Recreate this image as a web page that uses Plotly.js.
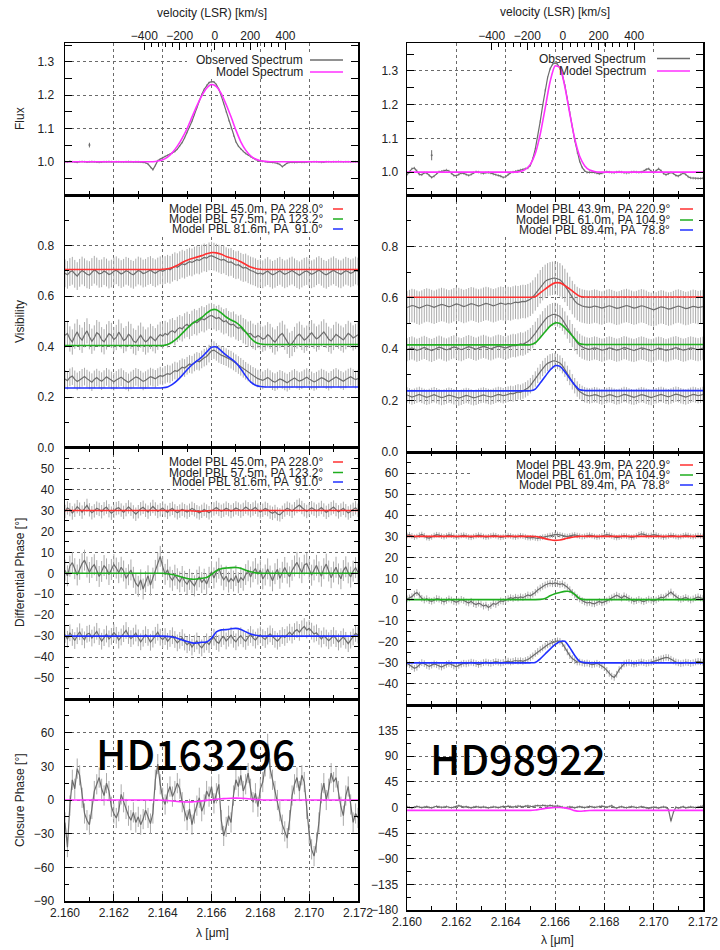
<!DOCTYPE html>
<html>
<head>
<meta charset="utf-8">
<script src="https://cdn.plot.ly/plotly-3.0.1.min.js"></script>
<style>html,body{margin:0;padding:0;background:#fff;}#chart{width:720px;height:950px;}</style>
</head>
<body>
<div id="chart"></div>
<script>
// ---------------- DATA ----------------
const lamObs = [
2.1600,2.1601,2.1602,2.1603,2.1604,2.1605,2.1606,2.1607,2.1608,2.1609,
2.1610,2.1611,2.1612,2.1613,2.1614,2.1615,2.1616,2.1617,2.1618,2.1619,
2.1620,2.1621,2.1622,2.1623,2.1624,2.1625,2.1626,2.1627,2.1628,2.1629,
2.1630,2.1631,2.1632,2.1633,2.1634,2.1635,2.1636,2.1637,2.1638,2.1639,
2.1640,2.1641,2.1642,2.1643,2.1644,2.1645,2.1646,2.1647,2.1648,2.1649,
2.1650,2.1651,2.1652,2.1653,2.1654,2.1655,2.1656,2.1657,2.1658,2.1659,
2.1660,2.1661,2.1662,2.1663,2.1664,2.1665,2.1666,2.1667,2.1668,2.1669,
2.1670,2.1671,2.1672,2.1673,2.1674,2.1675,2.1676,2.1677,2.1678,2.1679,
2.1680,2.1681,2.1682,2.1683,2.1684,2.1685,2.1686,2.1687,2.1688,2.1689,
2.1690,2.1691,2.1692,2.1693,2.1694,2.1695,2.1696,2.1697,2.1698,2.1699,
2.1700,2.1701,2.1702,2.1703,2.1704,2.1705,2.1706,2.1707,2.1708,2.1709,
2.1710,2.1711,2.1712,2.1713,2.1714,2.1715,2.1716,2.1717,2.1718,2.1719,2.1720];

const lamMod = [
2.1600,2.1602,2.1604,2.1606,2.1608,2.1610,2.1612,2.1614,2.1616,2.1618,
2.1620,2.1622,2.1624,2.1626,2.1628,2.1630,2.1632,2.1634,2.1636,2.1638,
2.1640,2.1642,2.1644,2.1646,2.1648,2.1650,2.1652,2.1654,2.1656,2.1658,
2.1660,2.1662,2.1664,2.1666,2.1668,2.1670,2.1672,2.1674,2.1676,2.1678,
2.1680,2.1682,2.1684,2.1686,2.1688,2.1690,2.1692,2.1694,2.1696,2.1698,
2.1700,2.1702,2.1704,2.1706,2.1708,2.1710,2.1712,2.1714,2.1716,2.1718,2.1720];

// ---- HD163296 (left) ----
const fluxObsL = [
1.000,0.999,1.001,1.000,0.999,0.998,1.000,1.001,1.000,0.999,
1.000,1.001,1.000,0.999,0.998,0.999,1.000,1.000,1.001,1.000,
0.999,1.000,1.000,0.999,0.999,1.000,1.001,1.000,0.999,1.000,
1.000,0.999,0.998,0.997,0.993,0.983,0.976,0.989,1.003,1.008,
1.012,1.016,1.019,1.022,1.026,1.031,1.038,1.047,1.058,1.072,
1.088,1.104,1.122,1.142,1.163,1.183,1.202,1.218,1.230,1.238,
1.241,1.240,1.232,1.218,1.198,1.175,1.150,1.124,1.100,1.078,
1.060,1.047,1.038,1.031,1.025,1.020,1.015,1.011,1.007,1.004,
1.002,1.001,1.000,0.999,0.999,0.998,0.997,0.995,0.992,0.985,
0.990,0.996,0.998,0.998,0.997,0.998,0.999,0.998,0.998,0.999,
1.000,0.999,1.000,1.000,0.999,0.998,0.999,1.000,1.000,0.999,
1.000,1.000,1.001,1.000,0.999,1.000,1.000,0.999,1.000,1.000,1.000];
const fluxModL = [
1.000,1.000,1.000,1.000,1.000,1.000,1.000,1.000,1.000,1.000,
1.000,1.000,1.000,1.000,1.000,1.000,1.000,1.000,1.000,1.002,
1.006,1.014,1.028,1.047,1.071,1.100,1.134,1.168,1.198,1.221,
1.232,1.226,1.205,1.172,1.135,1.095,1.060,1.035,1.018,1.008,
1.003,1.001,1.000,1.000,1.000,1.000,1.000,1.000,1.000,1.000,
1.000,1.000,1.000,1.000,1.000,1.000,1.000,1.000,1.000,1.000,1.000];

const visObsL1 = [
0.690,0.684,0.695,0.700,0.688,0.679,0.692,0.701,0.694,0.686,
0.683,0.695,0.704,0.697,0.688,0.690,0.699,0.693,0.685,0.689,
0.698,0.702,0.694,0.687,0.692,0.700,0.696,0.688,0.684,0.693,
0.701,0.697,0.689,0.692,0.699,0.703,0.695,0.690,0.697,0.702,
0.698,0.703,0.708,0.704,0.712,0.718,0.714,0.722,0.728,0.724,
0.731,0.736,0.733,0.740,0.744,0.741,0.748,0.753,0.750,0.757,
0.760,0.756,0.752,0.748,0.742,0.745,0.738,0.733,0.735,0.727,
0.722,0.724,0.716,0.711,0.713,0.706,0.701,0.698,0.694,0.688,
0.691,0.686,0.693,0.699,0.690,0.684,0.688,0.695,0.700,0.692,
0.686,0.690,0.697,0.701,0.694,0.687,0.682,0.689,0.696,0.699,
0.693,0.686,0.690,0.698,0.703,0.696,0.688,0.684,0.691,0.697,
0.702,0.695,0.689,0.686,0.693,0.700,0.696,0.690,0.694,0.701,0.697];
const visObsL2 = [
0.445,0.452,0.430,0.418,0.441,0.458,0.436,0.425,0.447,0.462,
0.439,0.421,0.434,0.455,0.448,0.427,0.419,0.438,0.451,0.444,
0.428,0.436,0.457,0.442,0.424,0.431,0.449,0.440,0.422,0.416,
0.433,0.445,0.429,0.418,0.426,0.440,0.431,0.423,0.437,0.448,
0.441,0.452,0.446,0.458,0.463,0.455,0.468,0.475,0.470,0.482,
0.488,0.479,0.492,0.499,0.494,0.503,0.510,0.506,0.514,0.520,
0.523,0.518,0.511,0.515,0.505,0.498,0.502,0.491,0.486,0.489,
0.478,0.472,0.476,0.463,0.458,0.449,0.452,0.441,0.436,0.444,
0.438,0.429,0.434,0.447,0.440,0.426,0.418,0.431,0.445,0.452,
0.437,0.421,0.405,0.412,0.428,0.442,0.449,0.436,0.425,0.433,
0.446,0.455,0.441,0.430,0.437,0.450,0.458,0.444,0.429,0.422,
0.436,0.448,0.441,0.433,0.426,0.439,0.452,0.445,0.434,0.440,0.447];
const visObsL3 = [
0.272,0.265,0.278,0.283,0.270,0.262,0.268,0.276,0.281,0.273,
0.266,0.259,0.270,0.277,0.269,0.263,0.271,0.280,0.274,0.266,
0.261,0.268,0.275,0.279,0.271,0.264,0.258,0.266,0.273,0.280,
0.276,0.269,0.262,0.267,0.274,0.281,0.277,0.272,0.279,0.285,
0.282,0.288,0.293,0.290,0.298,0.305,0.302,0.311,0.318,0.315,
0.324,0.331,0.328,0.337,0.343,0.340,0.349,0.356,0.361,0.372,
0.383,0.386,0.379,0.371,0.366,0.362,0.358,0.352,0.348,0.341,
0.334,0.327,0.320,0.312,0.304,0.297,0.291,0.284,0.279,0.273,
0.270,0.266,0.272,0.278,0.271,0.263,0.259,0.265,0.272,0.268,
0.262,0.257,0.264,0.271,0.276,0.269,0.263,0.267,0.274,0.279,
0.272,0.266,0.260,0.265,0.271,0.277,0.273,0.267,0.261,0.268,
0.275,0.280,0.274,0.268,0.263,0.270,0.277,0.281,0.275,0.269,0.273];
const visModL1 = [
0.705,0.705,0.705,0.705,0.705,0.705,0.705,0.705,0.705,0.705,
0.705,0.705,0.705,0.705,0.705,0.705,0.705,0.705,0.705,0.705,
0.706,0.708,0.713,0.722,0.733,0.742,0.749,0.754,0.760,0.767,
0.772,0.771,0.765,0.757,0.751,0.745,0.736,0.725,0.715,0.709,
0.706,0.705,0.705,0.705,0.705,0.705,0.705,0.705,0.705,0.705,
0.705,0.705,0.705,0.705,0.705,0.705,0.705,0.705,0.705,0.705,0.705];
const visModL2 = [
0.404,0.404,0.404,0.404,0.404,0.404,0.404,0.404,0.404,0.404,
0.404,0.404,0.404,0.404,0.404,0.404,0.404,0.404,0.404,0.404,
0.404,0.408,0.418,0.433,0.452,0.472,0.490,0.503,0.515,0.532,
0.545,0.546,0.533,0.517,0.505,0.496,0.480,0.458,0.434,0.417,
0.410,0.408,0.408,0.408,0.408,0.408,0.408,0.408,0.408,0.408,
0.408,0.408,0.408,0.408,0.408,0.408,0.408,0.408,0.408,0.408,0.408];
const visModL3 = [
0.236,0.236,0.236,0.236,0.236,0.236,0.236,0.236,0.236,0.236,
0.236,0.236,0.236,0.236,0.236,0.236,0.236,0.236,0.236,0.236,
0.237,0.240,0.250,0.266,0.286,0.308,0.328,0.343,0.358,0.378,
0.397,0.398,0.383,0.366,0.352,0.336,0.312,0.284,0.260,0.247,
0.242,0.240,0.240,0.240,0.240,0.240,0.240,0.240,0.240,0.240,
0.240,0.240,0.240,0.240,0.240,0.240,0.240,0.240,0.240,0.240,0.240];

const dpObsL1 = [
29.5,31.2,30.4,28.8,30.1,31.8,30.6,29.2,30.9,32.4,
30.3,28.9,29.8,31.1,30.5,29.4,30.8,31.6,29.9,28.7,
29.6,30.9,31.3,30.2,29.1,30.4,31.7,30.6,29.3,28.2,
29.4,30.8,31.5,30.1,29.2,30.6,31.9,30.7,29.5,30.3,
31.2,30.0,29.1,30.4,31.0,29.8,28.9,29.7,30.6,29.9,
29.2,30.1,31.0,30.3,29.4,28.8,29.6,30.5,29.7,28.9,
29.8,30.7,31.4,30.5,29.6,30.2,31.1,30.4,29.5,30.3,
31.2,30.6,29.7,30.5,31.6,30.8,29.9,30.7,31.5,30.2,
29.3,30.1,31.0,30.4,29.2,28.6,29.5,28.3,27.9,29.1,
30.2,31.1,30.5,29.6,30.8,31.9,32.6,31.4,30.3,29.5,
30.4,31.3,30.6,29.7,30.5,31.4,30.2,29.1,30.0,30.9,
31.6,30.4,29.3,30.2,31.0,29.9,28.8,29.6,30.5,31.3,30.1];
const dpObsL2 = [
1.5,-1.2,3.4,5.1,2.2,-0.8,1.9,4.6,6.3,3.0,
0.4,2.8,4.1,1.3,-1.5,0.9,3.7,2.1,-0.6,1.8,
4.2,2.5,0.3,2.9,1.1,-2.4,-0.7,1.6,-1.9,-4.8,
-6.2,-3.1,-7.5,-4.0,-1.2,-5.6,-2.3,1.4,4.8,8.1,
3.2,-0.5,1.7,-1.8,-3.4,-0.9,-2.6,-4.1,-1.5,-3.8,
-5.2,-2.9,-4.6,-6.0,-3.3,-1.7,-4.4,-2.8,-5.1,-1.9,
0.8,-2.2,0.6,2.4,-0.9,-3.1,-1.4,-4.2,-2.5,-3.7,
-1.1,-4.5,-2.0,-3.3,-0.6,1.2,-1.8,0.7,2.3,-0.4,
1.5,-2.7,-0.8,2.1,-1.3,-3.6,-0.2,1.9,-2.4,0.5,
2.8,0.1,-1.7,1.4,3.5,5.2,2.6,0.3,3.9,4.7,
2.0,-0.9,1.6,3.8,0.7,-1.4,2.2,4.4,1.1,-2.1,
0.6,2.9,-0.3,-2.6,1.3,3.1,0.2,-1.8,1.0,2.7,0.4];
const dpObsL3 = [
-29.2,-31.5,-28.4,-30.6,-32.1,-29.8,-27.9,-30.3,-31.8,-29.1,
-28.6,-30.9,-29.4,-27.7,-30.2,-32.4,-30.7,-29.0,-31.3,-30.1,
-28.3,-29.6,-31.9,-30.4,-28.8,-27.3,-29.7,-31.2,-30.0,-28.5,
-30.8,-32.7,-31.0,-29.3,-30.6,-32.9,-31.4,-29.6,-28.1,-30.5,
-31.7,-30.2,-32.5,-31.1,-29.8,-31.6,-33.2,-32.0,-30.7,-32.8,
-34.1,-33.0,-35.2,-33.6,-32.3,-34.4,-35.6,-33.9,-32.7,-34.0,
-31.8,-30.5,-32.6,-33.4,-31.2,-30.1,-32.3,-31.0,-29.6,-31.5,
-32.7,-30.9,-29.8,-31.3,-32.5,-30.6,-29.2,-30.8,-31.9,-30.3,
-29.4,-30.7,-31.6,-30.0,-28.9,-30.2,-31.5,-32.4,-31.1,-29.7,
-30.6,-29.3,-28.1,-29.5,-27.8,-26.9,-28.2,-26.5,-25.4,-27.1,
-26.3,-27.6,-29.0,-28.4,-30.1,-31.4,-29.8,-30.9,-32.2,-31.0,
-29.7,-31.2,-32.8,-31.5,-30.3,-32.0,-33.6,-31.9,-30.4,-28.7,-29.5];
const dpModL1 = [
30,30,30,30,30,30,30,30,30,30,
30,30,30,30,30,30,30,30,30,30,
30,30,30,30,30,30,29.8,29.6,29.6,29.8,
30,30,30,30,30,30,30,30,30,30,
30,30,30,30,30,30,30,30,30,30,
30,30,30,30,30,30,30,30,30,30,30];
const dpModL2 = [
0,0,0,0,0,0,0,0,0,0,
0,0,0,0,0,0,0,0,0,0,
0,-0.2,-0.6,-1.2,-1.9,-2.5,-2.8,-2.7,-2.4,-2.0,
-0.5,1.2,2.2,2.5,2.7,2.8,2.4,1.5,0.7,0.2,
0,0,0,0,0,0,0,0,0,0,
0,0,0,0,0,0,0,0,0,0,0];
const dpModL3 = [
-30,-30,-30,-30,-30,-30,-30,-30,-30,-30,
-30,-30,-30,-30,-30,-30,-30,-30,-30,-30,
-30,-30.1,-30.4,-31.0,-31.8,-32.6,-33.2,-33.3,-32.9,-32.8,
-31.0,-28.0,-27.0,-26.9,-26.5,-26.3,-26.8,-27.9,-29.0,-29.6,
-29.9,-30,-30,-30,-30,-30,-30,-30,-30,-30,
-30,-30,-30,-30,-30,-30,-30,-30,-30,-30,-30];

const cpObsL = [
-20,-42,-5,18,10,28,22,2,-12,-18,
-22,-8,8,14,20,10,4,15,8,-6,
-12,-16,-10,5,-2,-8,-14,-18,-11,-20,
-15,-22,-17,-9,-16,-21,-12,18,32,14,
2,-4,6,12,3,8,15,10,-2,-10,
-18,-8,-22,-12,-5,2,-10,-4,8,3,
12,-3,6,14,-18,-32,-24,-14,-20,4,
18,12,22,8,14,24,10,-2,6,-6,
10,16,30,50,28,18,8,0,-10,-22,
-28,-34,-18,4,14,20,8,22,16,-8,
-30,-44,-50,-38,-20,6,15,0,10,24,
16,20,8,-6,-14,4,12,-4,-20,-12,-16];
const cpModL = [
0,0,0,0,0,0,0,0,0,0,
0,0,0,0,0,0,0,0,0,0,
-0.2,-0.5,-0.9,-1.3,-1.6,-1.8,-1.7,-1.3,-0.8,-0.3,
0.2,0.7,1.1,1.4,1.6,1.7,1.6,1.3,0.9,0.5,
0.2,0,0,0,0,0,0,0,0,0,
0,0,0,0,0,0,0,0,0,0,0];

// ---- HD98922 (right) ----
const fluxObsR = [
0.992,1.000,1.010,1.012,1.004,0.993,0.992,0.998,0.997,0.990,
0.984,0.988,0.996,1.001,1.002,1.004,1.006,1.003,0.996,0.990,
0.989,0.993,0.997,0.996,0.992,0.990,0.993,0.998,1.001,1.000,
0.997,0.996,0.998,0.999,0.997,0.994,0.992,0.990,0.988,0.984,
0.986,0.993,0.998,1.000,1.002,1.004,1.006,1.008,1.010,1.012,
1.020,1.040,1.068,1.105,1.150,1.198,1.243,1.280,1.306,1.320,
1.324,1.320,1.308,1.288,1.257,1.220,1.178,1.135,1.094,1.058,
1.032,1.014,1.004,0.999,0.999,1.000,0.999,0.997,0.995,0.997,
1.000,1.001,1.000,0.998,0.998,1.000,1.001,1.000,0.998,0.997,
0.998,1.000,1.001,1.000,0.999,1.000,1.003,1.008,1.010,1.003,
0.998,1.004,1.010,1.004,0.996,0.992,0.995,0.999,0.996,0.990,
0.988,0.993,0.997,0.993,0.986,0.983,0.982,0.981,0.981,0.981,0.982];
const fluxModR = [
1.000,1.000,1.000,1.000,1.000,1.000,1.000,1.000,1.000,1.000,
1.000,1.000,1.000,1.000,1.000,1.000,1.000,1.000,1.000,1.000,
1.000,1.000,1.000,1.002,1.008,1.023,1.055,1.112,1.189,1.268,
1.315,1.310,1.253,1.173,1.099,1.047,1.019,1.006,1.002,1.000,
1.000,1.000,1.000,1.000,1.000,1.000,1.000,1.000,1.000,1.000,
1.000,1.000,1.000,1.000,1.000,1.000,1.000,1.000,1.000,1.000,1.000];

const visObsR1 = [
0.562,0.566,0.570,0.568,0.563,0.560,0.564,0.569,0.572,0.570,
0.566,0.563,0.567,0.571,0.574,0.572,0.568,0.565,0.568,0.573,
0.576,0.574,0.570,0.566,0.569,0.573,0.577,0.575,0.571,0.568,
0.571,0.575,0.578,0.576,0.572,0.569,0.572,0.576,0.579,0.577,
0.574,0.578,0.576,0.580,0.583,0.581,0.584,0.586,0.585,0.589,
0.594,0.603,0.615,0.629,0.643,0.655,0.664,0.670,0.674,0.676,
0.677,0.675,0.670,0.661,0.648,0.633,0.617,0.601,0.588,0.578,
0.572,0.568,0.566,0.564,0.563,0.565,0.568,0.566,0.562,0.560,
0.563,0.567,0.569,0.566,0.562,0.559,0.561,0.565,0.568,0.570,
0.567,0.563,0.560,0.562,0.566,0.569,0.567,0.563,0.558,0.555,
0.553,0.557,0.562,0.565,0.563,0.559,0.556,0.558,0.562,0.566,
0.568,0.565,0.561,0.558,0.560,0.564,0.567,0.565,0.562,0.564,0.566];
const visObsR2 = [
0.398,0.402,0.405,0.401,0.396,0.399,0.404,0.407,0.403,0.398,
0.395,0.399,0.404,0.408,0.405,0.400,0.397,0.401,0.406,0.409,
0.406,0.401,0.398,0.402,0.407,0.410,0.407,0.403,0.400,0.404,
0.408,0.411,0.408,0.404,0.401,0.405,0.409,0.412,0.410,0.406,
0.404,0.408,0.412,0.415,0.413,0.417,0.421,0.419,0.424,0.430,
0.438,0.449,0.462,0.476,0.490,0.503,0.515,0.525,0.531,0.535,
0.536,0.533,0.527,0.516,0.502,0.486,0.469,0.453,0.438,0.425,
0.415,0.408,0.404,0.401,0.399,0.402,0.405,0.403,0.399,0.396,
0.398,0.402,0.405,0.403,0.399,0.396,0.398,0.402,0.406,0.404,
0.400,0.397,0.395,0.398,0.402,0.405,0.403,0.399,0.396,0.394,
0.397,0.401,0.404,0.402,0.398,0.395,0.397,0.401,0.404,0.406,
0.403,0.399,0.396,0.398,0.402,0.405,0.403,0.400,0.398,0.401,0.404];
const visObsR3 = [
0.222,0.218,0.214,0.217,0.221,0.224,0.220,0.216,0.213,0.216,
0.220,0.223,0.219,0.215,0.212,0.214,0.218,0.221,0.219,0.215,
0.212,0.210,0.213,0.217,0.220,0.218,0.214,0.211,0.213,0.217,
0.220,0.222,0.219,0.216,0.214,0.217,0.221,0.224,0.222,0.219,
0.221,0.225,0.228,0.226,0.230,0.234,0.232,0.237,0.242,0.249,
0.258,0.270,0.284,0.298,0.312,0.325,0.336,0.345,0.351,0.354,
0.355,0.352,0.346,0.336,0.322,0.306,0.290,0.273,0.258,0.245,
0.235,0.228,0.223,0.220,0.218,0.220,0.223,0.221,0.217,0.214,
0.216,0.220,0.223,0.221,0.217,0.214,0.216,0.220,0.224,0.222,
0.218,0.215,0.213,0.216,0.220,0.223,0.221,0.217,0.214,0.212,
0.215,0.219,0.222,0.224,0.221,0.217,0.215,0.218,0.222,0.225,
0.223,0.219,0.216,0.214,0.217,0.221,0.224,0.222,0.219,0.221,0.224];
const visModR1 = [
0.602,0.602,0.602,0.602,0.602,0.602,0.602,0.602,0.602,0.602,
0.602,0.602,0.602,0.602,0.602,0.602,0.602,0.602,0.602,0.602,
0.602,0.602,0.602,0.602,0.602,0.602,0.604,0.619,0.634,0.648,
0.658,0.658,0.648,0.634,0.619,0.606,0.603,0.603,0.603,0.603,
0.603,0.603,0.603,0.603,0.603,0.603,0.603,0.603,0.603,0.603,
0.603,0.603,0.603,0.603,0.603,0.603,0.603,0.603,0.603,0.603,0.603];
const visModR2 = [
0.417,0.417,0.417,0.417,0.417,0.417,0.417,0.417,0.417,0.417,
0.417,0.417,0.417,0.417,0.417,0.417,0.417,0.417,0.417,0.417,
0.417,0.417,0.417,0.417,0.417,0.417,0.425,0.445,0.468,0.490,
0.502,0.500,0.484,0.463,0.441,0.421,0.418,0.418,0.418,0.418,
0.418,0.418,0.418,0.418,0.418,0.418,0.418,0.418,0.418,0.418,
0.418,0.418,0.418,0.418,0.418,0.418,0.418,0.418,0.418,0.418,0.418];
const visModR3 = [
0.238,0.238,0.238,0.238,0.238,0.238,0.238,0.238,0.238,0.238,
0.238,0.238,0.238,0.238,0.238,0.238,0.238,0.238,0.238,0.238,
0.238,0.238,0.238,0.238,0.238,0.238,0.245,0.268,0.294,0.319,
0.336,0.333,0.312,0.286,0.261,0.242,0.239,0.239,0.239,0.239,
0.239,0.239,0.239,0.239,0.239,0.239,0.239,0.239,0.239,0.239,
0.239,0.239,0.239,0.239,0.239,0.239,0.239,0.239,0.239,0.239,0.239];

const dpObsR1 = [
30.4,30.8,30.2,29.6,29.9,30.5,30.9,30.3,29.4,29.2,
29.7,30.4,30.8,30.6,30.1,29.8,30.2,30.7,30.5,30.0,
29.6,29.9,30.4,30.6,30.2,29.7,29.5,29.9,30.3,30.6,
30.4,29.9,29.6,29.8,30.2,30.5,30.3,29.8,29.5,29.7,
30.1,30.4,30.2,29.8,29.6,29.9,30.3,30.1,29.7,29.4,
29.3,29.5,29.2,29.0,29.3,29.6,29.8,30.1,30.4,30.6,
30.8,30.9,30.7,30.4,30.1,29.9,30.2,30.5,30.7,30.4,
30.1,29.8,30.0,30.4,30.6,30.3,29.9,29.6,29.8,30.2,
30.5,30.8,30.6,30.2,29.7,29.4,29.6,30.0,30.3,30.1,
29.8,29.5,29.7,30.2,30.8,31.2,30.9,30.4,30.1,30.5,
30.8,30.6,30.2,29.9,29.6,29.8,30.2,30.5,30.3,29.9,
29.7,29.9,30.3,30.6,30.4,30.0,29.8,30.1,30.4,30.2,30.0];
const dpObsR2 = [
0.3,0.8,1.4,2.6,3.3,2.1,0.6,-0.2,0.4,-0.5,
-0.8,-0.3,0.5,0.2,-0.6,-1.1,-0.4,0.3,-0.2,-0.9,
-1.3,-0.7,0.1,-0.4,-1.2,-1.6,-0.8,-1.9,-2.4,-1.7,
-2.2,-3.1,-2.6,-3.7,-2.9,-1.8,-2.3,-1.4,-0.6,-0.9,
-0.2,0.4,0.9,0.5,1.1,0.7,1.3,0.9,1.5,2.2,
1.8,2.5,3.4,4.6,5.5,6.3,6.9,7.4,7.8,7.5,
7.9,7.6,7.2,7.5,6.8,5.9,4.7,3.4,2.2,1.1,
0.3,-0.5,-1.1,-1.6,-1.3,-1.8,-2.0,-1.4,-0.9,-1.5,
-1.2,-0.6,0.2,0.8,1.4,2.1,1.5,0.7,1.8,1.2,
0.4,-0.3,-0.8,-0.5,0.1,-0.6,-1.0,-0.4,0.2,-0.3,
-0.7,-0.2,0.5,1.1,0.8,1.6,2.7,3.6,2.4,1.3,
0.6,0.1,0.5,1.0,0.4,-0.2,0.3,0.9,1.3,0.8,0.5];
const dpObsR3 = [
-30.2,-30.9,-31.8,-32.6,-32.1,-30.8,-29.9,-30.4,-31.2,-31.7,
-31.1,-30.5,-30.9,-31.6,-32.0,-31.4,-30.7,-30.3,-30.8,-31.5,
-31.9,-31.2,-30.6,-30.2,-30.5,-30.1,-29.7,-30.0,-30.4,-30.8,
-30.5,-29.9,-29.6,-30.0,-30.3,-29.8,-29.4,-29.7,-30.1,-29.8,
-29.5,-29.2,-29.6,-29.3,-28.9,-29.2,-29.0,-29.3,-28.9,-28.4,
-27.6,-26.7,-25.6,-24.6,-23.7,-22.9,-22.1,-21.4,-20.8,-20.3,
-19.9,-19.6,-19.8,-20.9,-22.8,-24.8,-26.6,-28.0,-29.0,-29.6,
-29.6,-30.0,-30.3,-30.1,-30.5,-30.9,-30.6,-30.2,-30.8,-31.4,
-32.3,-33.6,-35.0,-36.3,-36.9,-35.4,-33.2,-31.6,-30.5,-30.1,
-29.8,-30.2,-30.6,-30.3,-29.9,-29.6,-29.9,-30.3,-30.0,-29.7,
-29.3,-29.0,-28.6,-28.1,-27.8,-27.4,-27.6,-28.3,-29.1,-29.6,
-30.0,-30.4,-30.1,-29.7,-29.9,-30.3,-30.0,-29.6,-29.3,-29.5,-29.8];
const dpModR1 = [
30,30,30,30,30,30,30,30,30,30,
30,30,30,30,30,30,30,30,30,30,
30,30,30,30,30,30,29.9,29.5,28.9,28.4,
28.1,28.3,28.8,29.4,29.8,30,30,30,30,30,
30,30,30,30,30,30,30,30,30,30,
30,30,30,30,30,30,30,30,30,30,30];
const dpModR2 = [
0,0,0,0,0,0,0,0,0,0,
0,0,0,0,0,0,0,0,0,0,
0,0,0,0,0,0,0,0.1,0.5,1.8,
2.8,3.4,3.9,3.8,2.5,0.5,0,0,0,0,
0,0,0,0,0,0,0,0,0,0,
0,0,0,0,0,0,0,0,0,0,0];
const dpModR3 = [
-30,-30,-30,-30,-30,-30,-30,-30,-30,-30,
-30,-30,-30,-30,-30,-30,-30,-30,-30,-30,
-30,-30,-30,-30,-30,-30,-29.8,-28.1,-25.8,-23.5,
-21.4,-19.9,-19.8,-22.8,-26.5,-29.3,-29.9,-30,-30,-30,
-30,-30,-30,-30,-30,-30,-30,-30,-30,-30,
-30,-30,-30,-30,-30,-30,-30,-30,-30,-30,-30];

const cpObsR = [
1.2,0.4,-0.8,0.6,1.8,0.9,-0.3,0.7,1.5,0.2,
-0.6,0.8,2.1,1.3,0.1,0.9,1.7,0.5,-0.4,0.6,
1.9,3.2,2.0,0.8,1.4,0.3,-0.5,0.7,1.6,0.9,
0.1,1.2,0.4,-0.7,0.5,1.3,0.6,-0.2,0.8,1.9,
1.1,2.4,1.5,0.7,1.8,2.6,1.9,1.2,2.3,3.0,
2.2,1.6,2.8,3.5,2.7,3.9,3.2,2.5,3.6,2.9,
2.1,2.8,1.7,0.9,-0.4,0.5,1.3,0.6,-0.5,0.8,
1.6,0.7,-0.3,0.9,1.8,1.1,0.2,0.9,1.7,2.5,
1.4,0.6,1.8,3.1,0.5,-1.2,0.8,1.5,0.3,-0.4,
0.7,1.6,0.9,-0.2,0.5,1.4,0.6,-0.8,-1.6,-0.3,
0.8,0.2,-0.9,0.4,1.2,0.3,-3.5,-24.0,-8.5,0.6,
-1.1,0.3,1.4,-0.6,0.5,1.2,0.4,-0.3,0.9,1.8,2.6];
const cpModR = [
-5,-5,-5,-5,-5,-5,-5,-5,-5,-5,
-5,-5,-5,-5,-5,-5,-5,-5,-5,-5,
-5,-5,-5,-5,-5,-5,-4.3,-3.0,-1.6,-0.6,
0,0,-0.6,-2.4,-5.5,-6.6,-6.0,-5.3,-5,-5,
-5,-5,-5,-5,-5,-5,-5,-5,-5,-5,
-5,-5,-5,-5,-5,-5,-5,-5,-5,-5,-5];

// typical error bars (one sigma) of each observed series
const errFlux = [0.003, 0.004];
const errVisL = [0.055, 0.05, 0.035];
const errVisR = [0.065, 0.045, 0.03];
const errDpL = [3.2, 5, 4];
const errDpR = [1.3, 1.6, 1.6];
const errCp = [9, 2.2];
// representative flux error bar
const repLam = [2.161];
const repFlux = [1.05];
const repErr = [0.007, 0.015];

// tick labels
const lamTicks = [2.160,2.162,2.164,2.166,2.168,2.170,2.172];
const lamTickText = ['2.160','2.162','2.164','2.166','2.168','2.170','2.172'];
const lamMinor = [2.161,2.163,2.165,2.167,2.169,2.171];
const velTicks = [-400,-200,0,200,400];
const velMinor = [-360,-320,-280,-240,-160,-120,-80,-40,40,80,120,160,240,280,320,360];
const velRangeL = [-850,811];
const velRangeR = [-875,786];
const fluxTicks = [1.0,1.1,1.2,1.3];
const fluxTickText = ['1.0','1.1','1.2','1.3'];
const fluxMinor = [0.95,1.05,1.15,1.25,1.35];
const visTicks = [0,0.2,0.4,0.6,0.8];
const visTickText = ['0.0','0.2','0.4','0.6','0.8'];
const visMinor = [0.1,0.3,0.5,0.7,0.9];
const dpTicksL = [-50,-40,-30,-20,-10,0,10,20,30,40,50];
const dpMinorL = [-55,-45,-35,-25,-15,-5,5,15,25,35,45,55];
const dpTicksR = [-40,-30,-20,-10,0,10,20,30,40,50,60];
const dpMinorR = [-45,-35,-25,-15,-5,5,15,25,35,45,55,65];
const cpTicksL = [-90,-60,-30,0,30,60];
const cpMinorL = [-75,-45,-15,15,45,75];
const cpTicksR = [-180,-135,-90,-45,0,45,90,135];
const cpMinorR = [-157.5,-112.5,-67.5,-22.5,22.5,67.5,112.5,157.5];

const legFlux = ['Observed Spectrum','Model Spectrum'];
const legL = ['Model PBL 45.0m, PA 228.0°','Model PBL 57.5m, PA 123.2°','Model PBL 81.6m, PA \u00a091.0°'];
const legR = ['Model PBL 43.9m, PA 220.9°','Model PBL 61.0m, PA 104.9°','Model PBL 89.4m, PA \u00a078.8°'];
const starNames = ['HD163296','HD98922'];

// ---------------- STYLE / LAYOUT ----------------
const W = 720, H = 950;
const OBS = '#6c6c6c', ERR = '#ababab';
const RED = '#ff3030', GRN = '#1fae1f', BLU = '#2030ff', MAG = '#ff30ff';
const FONT = 'Liberation Sans, Arial, sans-serif';
const TXT = '#222';

const PX = {L: [65, 358], R: [407, 703]};
const PY = {
  L: [[43,195],[195,447.6],[447.6,699],[699,901]],
  R: [[43,195],[195,452],[452,705],[705,910]]
};
const YR = {
  L: [[0.9,1.357],[0,1],[-60,60],[-90,90]],
  R: [[0.932,1.383],[0,1],[-50,70],[-180,180]]
};
const XR = [2.160, 2.172];
const dx = a => [a[0]/W, a[1]/W];
const dy = a => [1 - a[1]/H, 1 - a[0]/H];
const px = x => x/W;
const py = y => 1 - y/H;

const traces = [];
function addObs(xa, ya, ys, err) {
  traces.push({x: lamObs, y: ys, xaxis: xa, yaxis: ya, type: 'scatter', mode: 'markers',
    marker: {size: 1, color: 'rgba(0,0,0,0)'},
    error_y: {type: 'constant', value: err, color: ERR, thickness: 1, width: 0}, hoverinfo: 'skip'});
  traces.push({x: lamObs, y: ys, xaxis: xa, yaxis: ya, type: 'scatter', mode: 'lines',
    line: {color: OBS, width: 1.2}, hoverinfo: 'skip'});
}
function addMod(xa, ya, ys, col) {
  traces.push({x: lamMod, y: ys, xaxis: xa, yaxis: ya, type: 'scatter', mode: 'lines',
    line: {color: col, width: 1.6, shape: 'spline', smoothing: 0.6}, hoverinfo: 'skip'});
}

// left column
addObs('x', 'y', fluxObsL, errFlux[0]);
traces.push({x: repLam, y: repFlux, xaxis: 'x', yaxis: 'y', type: 'scatter', mode: 'markers',
  marker: {size: 2, color: OBS}, error_y: {type: 'constant', value: repErr[0], color: OBS, thickness: 1, width: 0}});
addMod('x', 'y', fluxModL, MAG);
addObs('x2', 'y2', visObsL1, errVisL[0]);
addObs('x2', 'y2', visObsL2, errVisL[1]);
addObs('x2', 'y2', visObsL3, errVisL[2]);
addMod('x2', 'y2', visModL1, RED);
addMod('x2', 'y2', visModL2, GRN);
addMod('x2', 'y2', visModL3, BLU);
addObs('x3', 'y3', dpObsL1, errDpL[0]);
addObs('x3', 'y3', dpObsL2, errDpL[1]);
addObs('x3', 'y3', dpObsL3, errDpL[2]);
addMod('x3', 'y3', dpModL1, RED);
addMod('x3', 'y3', dpModL2, GRN);
addMod('x3', 'y3', dpModL3, BLU);
addObs('x4', 'y4', cpObsL, errCp[0]);
addMod('x4', 'y4', cpModL, MAG);
// right column
addObs('x5', 'y5', fluxObsR, errFlux[1]);
traces.push({x: repLam, y: repFlux, xaxis: 'x5', yaxis: 'y5', type: 'scatter', mode: 'markers',
  marker: {size: 2, color: OBS}, error_y: {type: 'constant', value: repErr[1], color: OBS, thickness: 1, width: 0}});
addMod('x5', 'y5', fluxModR, MAG);
addObs('x6', 'y6', visObsR1, errVisR[0]);
addObs('x6', 'y6', visObsR2, errVisR[1]);
addObs('x6', 'y6', visObsR3, errVisR[2]);
addMod('x6', 'y6', visModR1, RED);
addMod('x6', 'y6', visModR2, GRN);
addMod('x6', 'y6', visModR3, BLU);
addObs('x7', 'y7', dpObsR1, errDpR[0]);
addObs('x7', 'y7', dpObsR2, errDpR[1]);
addObs('x7', 'y7', dpObsR3, errDpR[2]);
addMod('x7', 'y7', dpModR1, RED);
addMod('x7', 'y7', dpModR2, GRN);
addMod('x7', 'y7', dpModR3, BLU);
addObs('x8', 'y8', cpObsR, errCp[1]);
addMod('x8', 'y8', cpModR, MAG);
// invisible helpers so that the top velocity axes get drawn
traces.push({x: velRangeL, y: [fluxTicks[0], fluxTicks[0]], xaxis: 'x9', yaxis: 'y', type: 'scatter', mode: 'lines',
  line: {width: 0, color: 'rgba(0,0,0,0)'}, hoverinfo: 'skip'});
traces.push({x: velRangeR, y: [fluxTicks[0], fluxTicks[0]], xaxis: 'x10', yaxis: 'y5', type: 'scatter', mode: 'lines',
  line: {width: 0, color: 'rgba(0,0,0,0)'}, hoverinfo: 'skip'});

const tickfont = {family: FONT, size: 12, color: TXT};
function xAxis(side, row, anchor) {
  return {
    domain: dx(PX[side]), anchor: anchor, range: XR,
    tickmode: 'array', tickvals: lamTicks, ticktext: lamTickText,
    showticklabels: row === 3, tickfont: tickfont,
    ticks: 'inside', ticklen: 7, tickwidth: 1, tickcolor: '#000',
    showline: true, linecolor: '#000', linewidth: 1.5,
    mirror: row === 0 ? true : 'allticks',
    showgrid: true, gridcolor: '#6a6a6a', griddash: 'dot', gridwidth: 1, zeroline: false,
    minor: {tickmode: 'array', tickvals: lamMinor, ticks: 'inside', ticklen: 4, tickcolor: '#000', showgrid: false}
  };
}
function yAxis(side, row, anchor, tv, tt, minor) {
  const a = {
    domain: dy(PY[side][row]), anchor: anchor, range: YR[side][row],
    tickmode: 'array', tickvals: tv, tickfont: tickfont,
    ticks: 'inside', ticklen: 7, tickwidth: 1, tickcolor: '#000',
    showline: true, linecolor: '#000', linewidth: 1.5, mirror: 'allticks',
    showgrid: true, gridcolor: '#6a6a6a', griddash: 'dot', gridwidth: 1, zeroline: false,
    ticklabelstandoff: side === 'L' ? 7 : 5,
    minor: {tickmode: 'array', tickvals: minor, ticks: 'inside', ticklen: 4, tickcolor: '#000', showgrid: false}
  };
  if (tt) a.ticktext = tt;
  return a;
}
function velAxis(over, anchor, range) {
  return {
    overlaying: over, anchor: anchor, side: 'top', range: range,
    tickmode: 'array', tickvals: velTicks, tickfont: tickfont,
    ticks: 'inside', ticklen: 7, tickwidth: 1, tickcolor: '#000',
    showline: false, showgrid: false, zeroline: false,
    minor: {tickmode: 'array', tickvals: velMinor, ticks: 'inside', ticklen: 4, tickcolor: '#000', showgrid: false}
  };
}

const layout = {
  width: W, height: H, margin: {l: 0, r: 0, t: 0, b: 0},
  paper_bgcolor: '#fff', plot_bgcolor: '#fff', showlegend: false,
  font: {family: FONT, size: 12, color: TXT},
  xaxis: xAxis('L', 0, 'y'), xaxis2: xAxis('L', 1, 'y2'), xaxis3: xAxis('L', 2, 'y3'), xaxis4: xAxis('L', 3, 'y4'),
  xaxis5: xAxis('R', 0, 'y5'), xaxis6: xAxis('R', 1, 'y6'), xaxis7: xAxis('R', 2, 'y7'), xaxis8: xAxis('R', 3, 'y8'),
  xaxis9: velAxis('x', 'y', velRangeL), xaxis10: velAxis('x5', 'y5', velRangeR),
  yaxis: yAxis('L', 0, 'x', fluxTicks, fluxTickText, fluxMinor),
  yaxis2: yAxis('L', 1, 'x2', visTicks, visTickText, visMinor),
  yaxis3: yAxis('L', 2, 'x3', dpTicksL, null, dpMinorL),
  yaxis4: yAxis('L', 3, 'x4', cpTicksL, null, cpMinorL),
  yaxis5: yAxis('R', 0, 'x5', fluxTicks, fluxTickText, fluxMinor),
  yaxis6: yAxis('R', 1, 'x6', visTicks, visTickText, visMinor),
  yaxis7: yAxis('R', 2, 'x7', dpTicksR, null, dpMinorR),
  yaxis8: yAxis('R', 3, 'x8', cpTicksR, null, cpMinorR),
  annotations: [], shapes: []
};

function ann(x, y, text, opts) {
  layout.annotations.push(Object.assign({
    xref: 'paper', yref: 'paper', x: px(x), y: py(y), text: text, showarrow: false,
    xanchor: 'center', yanchor: 'middle', font: {family: FONT, size: 12, color: TXT}
  }, opts || {}));
}
// axis titles
ann(212, 13, 'velocity (LSR) [km/s]');
ann(555, 12, 'velocity (LSR) [km/s]');
ann(20, 119, 'Flux', {textangle: -90});
ann(20, 322, 'Visibility', {textangle: -90});
ann(20, 573, 'Differential Phase [°]', {textangle: -90});
ann(20, 800, 'Closure Phase [°]', {textangle: -90});
ann(212, 933, 'λ [μm]');
ann(557, 940, 'λ [μm]');
// star names
ann(195, 752, starNames[0], {font: {family: 'Noto Sans CJK JP', size: 41, color: '#000', weight: 500}});
ann(518, 757, starNames[1], {font: {family: 'Noto Sans CJK JP', size: 41, color: '#000', weight: 500}});

// key boxes (hide grid behind key text), placed in each panel's data coordinates
function keyBox(side, row, x0, x1, y0, y1) {
  const xr = PX[side], yr = PY[side][row], rg = YR[side][row];
  const n = side === 'L' ? row + 1 : row + 5;
  const xa = n === 1 ? 'x' : 'x' + n, ya = n === 1 ? 'y' : 'y' + n;
  const toX = p => XR[0] + (p - xr[0]) / (xr[1] - xr[0]) * (XR[1] - XR[0]);
  const toY = p => rg[1] - (p - yr[0]) / (yr[1] - yr[0]) * (rg[1] - rg[0]);
  layout.shapes.push({type: 'rect', xref: xa, yref: ya,
    x0: toX(x0), x1: toX(x1), y0: toY(y1), y1: toY(y0),
    fillcolor: '#fff', line: {width: 0}, layer: 'between'});
}
function keyRow(xr, y, text, s0, s1, col) {
  ann(xr, y, text, {xanchor: 'right'});
  layout.shapes.push({type: 'line', xref: 'paper', yref: 'paper', x0: px(s0), x1: px(s1), y0: py(y), y1: py(y),
    line: {color: col, width: 1.5}, layer: 'above'});
}
keyBox('L', 0, 187, 352, 53, 78);
keyRow(305, 60, legFlux[0], 310, 343, OBS);
keyRow(305, 72, legFlux[1], 310, 343, MAG);
keyBox('R', 0, 515, 698, 52, 77);
keyRow(648, 58.5, legFlux[0], 657, 690, OBS);
keyRow(648, 71, legFlux[1], 657, 690, MAG);

keyBox('L', 1, 158, 352, 201, 235);
keyRow(325, 209, legL[0], 333, 343, RED);
keyRow(325, 219, legL[1], 333, 343, GRN);
keyRow(325, 229, legL[2], 333, 343, BLU);
keyBox('R', 1, 503, 698, 201, 236);
keyRow(672, 209, legR[0], 680, 693, RED);
keyRow(672, 220, legR[1], 680, 693, GRN);
keyRow(672, 230, legR[2], 680, 693, BLU);

keyBox('L', 2, 120, 352, 455, 489);
keyRow(325, 462, legL[0], 333, 343, RED);
keyRow(325, 472.5, legL[1], 333, 343, GRN);
keyRow(325, 482, legL[2], 333, 343, BLU);
keyBox('R', 2, 472, 698, 457, 491);
keyRow(672, 465, legR[0], 680, 693, RED);
keyRow(672, 475, legR[1], 680, 693, GRN);
keyRow(672, 485, legR[2], 680, 693, BLU);

Plotly.newPlot('chart', traces, layout, {displayModeBar: false, staticPlot: true});
</script>
</body>
</html>
